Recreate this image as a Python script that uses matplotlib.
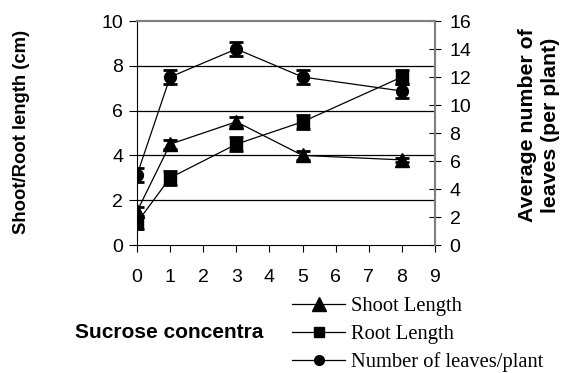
import matplotlib.pyplot as plt
from matplotlib.lines import Line2D

sucrose = [0, 1, 3, 5, 8]
shoot = [1.5, 4.5, 5.5, 4.0, 3.8]
shoot_err = [0.2, 0.2, 0.2, 0.2, 0.1]
root = [1.0, 3.0, 4.5, 5.5, 7.5]
root_err = [0.3, 0.3, 0.3, 0.3, 0.3]
leaves = [5, 12, 14, 12, 11]
leaves_err = [0.5, 0.5, 0.5, 0.5, 0.5]

plt.rcParams['font.family'] = ['Liberation Sans', 'DejaVu Sans']

fig = plt.figure(figsize=(5.64, 3.73), dpi=100)
ax = fig.add_axes([137/564, 1-245/373, 298/564, 224/373])
ax2 = ax.twinx()

style = dict(color='black', lw=0.9, elinewidth=2, capsize=5, capthick=2)
ax.errorbar(sucrose, shoot, yerr=shoot_err, marker='^', ms=10, **style)
ax.errorbar(sucrose, root, yerr=root_err, marker='s', ms=8, **style)
ax2.errorbar(sucrose, leaves, yerr=leaves_err, marker='o', ms=8.5, **style)

ax.set_xlim(0, 9)
ax.set_ylim(0, 10)
ax2.set_ylim(0, 16)
ax.set_xticks(range(10))
ax.set_yticks(range(0, 11, 2))
ax2.set_yticks(range(0, 17, 2))
for y in [2, 4, 6, 8]:
    ax.axhline(y, color='black', lw=0.9, zorder=0)

ax.tick_params(axis='x', direction='out', length=5, pad=12, labelsize=14)
ax.tick_params(axis='y', direction='out', length=6, pad=4, labelsize=14)
ax2.tick_params(axis='y', direction='inout', length=9, pad=6, labelsize=14)
for s in ['top', 'right']:
    ax.spines[s].set_color('#808080')
    ax2.spines[s].set_color('#808080')
    ax2.spines[s].set_linewidth(1.5)
ax2.spines['left'].set_visible(False)
ax2.spines['bottom'].set_visible(False)
ax.spines['top'].set_linewidth(1.5)

fig.text(22/564, 1-132/373, 'Shoot/Root length (cm)', rotation=90, fontsize=13.3,
         fontweight='bold', ha='center', va='center')
fig.text(539/564, 1-125/373, 'Average number of\nleaves (per plant)', rotation=90,
         fontsize=15.3, fontweight='bold', ha='center', va='center',
         multialignment='center', linespacing=1.25)
fig.text(75/564, 1-332/373, 'Sucrose concentra', fontsize=15,
         fontweight='bold', ha='left', va='center')

handles = [
    Line2D([], [], color='black', lw=0.9, marker='^', ms=10),
    Line2D([], [], color='black', lw=0.9, marker='s', ms=7),
    Line2D([], [], color='black', lw=0.9, marker='o', ms=7),
]
labels = ['Shoot Length', 'Root Length', 'Number of leaves/plant']
fig.legend(handles, labels, loc='upper left', bbox_to_anchor=(292/564, 1-297/373),
           frameon=False, prop={'family': 'Liberation Serif', 'size': 14.8},
           handlelength=2.6, handletextpad=0.25, labelspacing=0.4,
           borderaxespad=0, borderpad=0)

fig.savefig('out.png', dpi=100)
